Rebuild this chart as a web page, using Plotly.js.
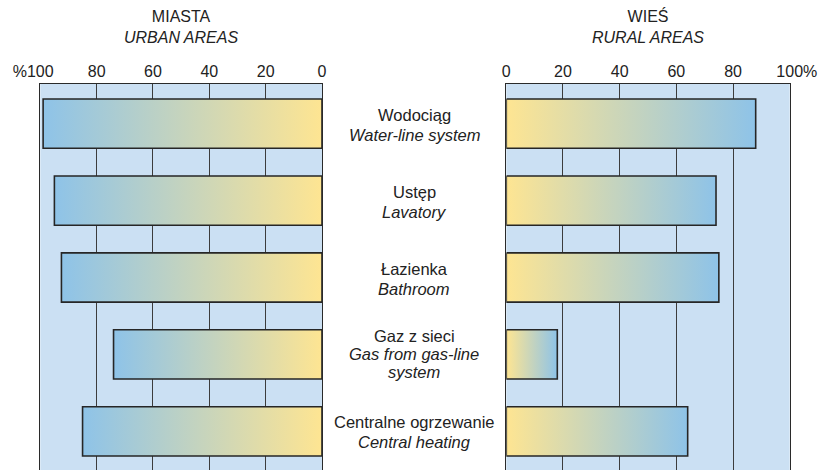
<!DOCTYPE html>
<html>
<head>
<meta charset="utf-8">
<script src="https://cdn.plot.ly/plotly-3.0.1.min.js"></script>
<style>html,body{margin:0;padding:0;background:#fff;}#chart{width:819px;height:470px;}</style>
</head>
<body>
<div id="chart"></div>
<script>
// ---- data ----
const categoriesPL = ["Wodociąg", "Ustęp", "Łazienka", "Gaz z sieci", "Centralne ogrzewanie"];
const categoriesEN = ["Water-line system", "Lavatory", "Bathroom", "Gas from gas-line<br>system", "Central heating"];
const urbanValues = [99, 95, 92.5, 74, 85];
const ruralValues = [88, 74, 75, 18, 64];
const tickValues = [0, 20, 40, 60, 80, 100];
const urbanTickText = ["0", "20", "40", "60", "80", "%100"];
const ruralTickText = ["0", "20", "40", "60", "80", "100%"];
const panelTitlesPL = ["MIASTA", "WIEŚ"];
const panelTitlesEN = ["URBAN AREAS", "RURAL AREAS"];

// ---- styles ----
const W = 819, H = 470, TOP = 84;
const FONT = "Liberation Sans, Arial, sans-serif";
const TXT = "#222";
const BLUE = "#8ec3e8", YELLOW = "#fee592";
const BG = "#cbe0f3";
const HALF = 0.32;

// pad tick labels so the numbers stay centred on the tick and the % sign hangs outside
function padTick(t) {
  if (t.startsWith('%')) return t + "<span style='color:rgba(0,0,0,0)'>%</span>";
  if (t.endsWith('%')) return "<span style='color:rgba(0,0,0,0)'>%</span>" + t;
  return t;
}

const traces = [];
function barTrace(v, i, xa, ya, scale) {
  return {
    type: 'scatter', mode: 'lines', xaxis: xa, yaxis: ya,
    x: [0, v, v, 0, 0],
    y: [i - HALF, i - HALF, i + HALF, i + HALF, i - HALF],
    fill: 'toself',
    fillgradient: { type: 'horizontal', colorscale: scale },
    line: { color: '#262626', width: 1.6 },
    hoverinfo: 'skip', showlegend: false
  };
}
urbanValues.forEach((v, i) => traces.push(barTrace(v, i, 'x', 'y', [[0, BLUE], [1, YELLOW]])));
ruralValues.forEach((v, i) => traces.push(barTrace(v, i, 'x2', 'y2', [[0, YELLOW], [1, BLUE]])));

const plotH = H - TOP;
const ypx = p => 1 + (TOP - p) / plotH; // pixel row above plot -> paper y

const annotations = [];
// panel titles
['x domain', 'x2 domain'].forEach((r, k) => {
  annotations.push({
    xref: r, yref: 'paper', x: 0.5, y: ypx(27), xanchor: 'center', yanchor: 'middle',
    text: panelTitlesPL[k] + '<br><i>' + panelTitlesEN[k] + '</i>',
    showarrow: false, font: { family: FONT, size: 16, color: TXT }
  });
});
// middle labels
categoriesPL.forEach((c, i) => {
  const enLines = categoriesEN[i].split('<br>');
  const lines = [c].concat(enLines.map(s => '<i>' + s + '</i>'));
  const offsets = lines.length === 3 ? [-18, 0, 18] : [-9, 11];
  lines.forEach((ln, j) => {
    annotations.push({
      xref: 'paper', yref: 'y', x: 414 / W, y: i, xanchor: 'center', yanchor: 'middle',
      yshift: -offsets[j], text: ln, showarrow: false,
      font: { family: FONT, size: 16.5, color: TXT }
    });
  });
});

const xCommon = {
  side: 'top', tickvals: tickValues, showgrid: true, gridcolor: '#3c3c3c', gridwidth: 1,
  zeroline: false, showline: true, linecolor: '#2a2a2a', linewidth: 1, mirror: false,
  ticks: '', tickfont: { family: FONT, size: 16, color: TXT }, fixedrange: true
};
const yCommon = {
  range: [4.503, -0.516], showgrid: false, zeroline: false, showticklabels: false,
  ticks: '', showline: true, mirror: true, linecolor: '#2a2a2a', linewidth: 1, fixedrange: true
};

const layout = {
  width: W, height: H, margin: { l: 0, r: 0, t: TOP, b: 0 },
  paper_bgcolor: '#fff', plot_bgcolor: BG, showlegend: false,
  font: { family: FONT, size: 16, color: TXT },
  xaxis: Object.assign({}, xCommon, { domain: [40.3 / W, 322 / W], range: [100, 0], anchor: 'y', ticktext: urbanTickText.map(padTick) }),
  xaxis2: Object.assign({}, xCommon, { domain: [506.3 / W, 789.7 / W], range: [0, 100], anchor: 'y2', ticktext: ruralTickText.map(padTick) }),
  yaxis: Object.assign({}, yCommon, { anchor: 'x' }),
  yaxis2: Object.assign({}, yCommon, { anchor: 'x2' }),
  annotations: annotations
};

Plotly.newPlot('chart', traces, layout, { staticPlot: true, displayModeBar: false });
</script>
</body>
</html>
